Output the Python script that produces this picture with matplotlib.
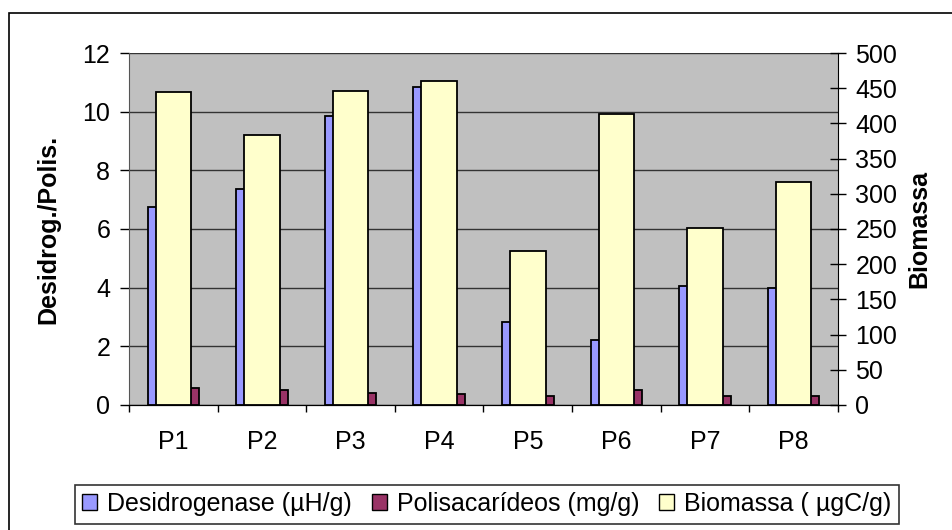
import numpy as np
import matplotlib.pyplot as plt
from matplotlib.patches import Rectangle, Patch

plt.rcParams['font.family'] = ['Liberation Sans', 'DejaVu Sans']

pontos = ['P1', 'P2', 'P3', 'P4', 'P5', 'P6', 'P7', 'P8']
desidrogenase = [6.76, 7.36, 9.85, 10.85, 2.82, 2.22, 4.07, 3.99]
polissacarideos = [0.58, 0.51, 0.40, 0.39, 0.32, 0.51, 0.32, 0.32]
biomassa = [444, 383, 446, 460, 219, 414, 252, 317]

W, H = 953, 530
fig = plt.figure(figsize=(W / 100, H / 100), dpi=100)
fig.patch.set_facecolor('white')

# moldura externa (só se vê o lado esquerdo e o topo)
fig.patches.append(Rectangle((9 / W, -0.2), 1.2, 1.2 - 13 / H, transform=fig.transFigure,
                             fill=False, edgecolor='black', linewidth=1.2))

ax = fig.add_axes([129 / W, (H - 405) / H, 709 / W, 352 / H])
ax2 = ax.twinx()

x = np.arange(len(pontos))
lw = 1.3
ax.bar(x - 0.145, desidrogenase, width=0.29, color='#9999FF', edgecolor='black', linewidth=lw, zorder=2)
ax.bar(x + 0.145, polissacarideos, width=0.29, color='#993366', edgecolor='black', linewidth=lw, zorder=2)
ax2.bar(x, biomassa, width=0.40, color='#FFFFCC', edgecolor='black', linewidth=lw, zorder=2)

ax.set_facecolor('#C0C0C0')
ax2.patch.set_visible(False)
ax.set_xlim(-0.5, len(pontos) - 0.5)
ax.set_ylim(0, 12)
ax2.set_ylim(0, 500)
ax.set_yticks(np.arange(0, 13, 2))
ax2.set_yticks(np.arange(0, 501, 50))
ax.yaxis.grid(True, color='#333333', linewidth=1)
ax.set_axisbelow(True)

fs = 18
ax.set_xticks(x)
ax.set_xticklabels(pontos)
ax.set_xticks(np.arange(-0.5, len(pontos), 1), minor=True)
ax.tick_params(axis='x', which='major', length=0, pad=18, labelsize=fs)
ax.tick_params(axis='x', which='minor', length=5, width=1, direction='out')
ax.tick_params(axis='y', length=6.5, width=1, direction='out', pad=7, labelsize=fs)
ax2.tick_params(axis='y', length=11, width=1, direction='inout', pad=7, labelsize=fs)

for a in (ax, ax2):
    for s in ('top', 'right'):
        a.spines[s].set_visible(False)
ax.spines['left'].set_color('#555555')
ax2.spines['left'].set_visible(False)
ax2.spines['right'].set_visible(True)
ax2.spines['right'].set_color('black')

ax.set_ylabel('Desidrog./Polis.', fontsize=18, fontweight='bold', labelpad=16)
ax2.set_ylabel('Biomassa', fontsize=18, fontweight='bold', labelpad=7)

handles = [Patch(facecolor='#9999FF', edgecolor='black'),
           Patch(facecolor='#993366', edgecolor='black'),
           Patch(facecolor='#FFFFCC', edgecolor='black')]
labels = ['Desidrogenase (µH/g)', 'Polisacarídeos (mg/g)', 'Biomassa ( µgC/g)']
leg = fig.legend(handles, labels, loc='center', bbox_to_anchor=(487 / W, 1 - 504 / H), ncol=3,
                 fontsize=fs, frameon=True, fancybox=False, handlelength=0.6, handleheight=0.6,
                 handletextpad=0.4, columnspacing=0.8, borderpad=0.3, borderaxespad=0)
leg.get_frame().set_edgecolor('black')
leg.get_frame().set_linewidth(1.2)

fig.savefig('out.png', dpi=100)
